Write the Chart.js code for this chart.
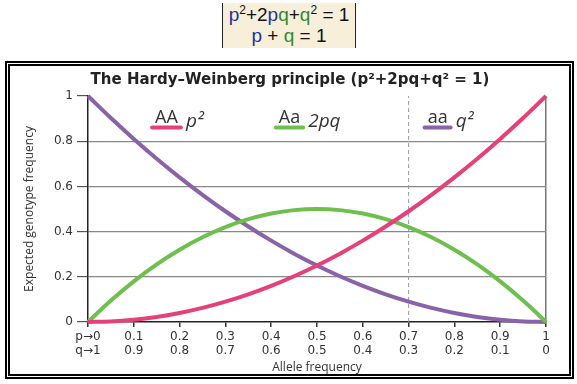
<!DOCTYPE html>
<html>
<head>
<meta charset="utf-8">
<script src="https://cdn.jsdelivr.net/npm/chart.js@4.4.1/dist/chart.umd.min.js"></script>
<style>
  html, body { margin: 0; padding: 0; background: #fff; width: 577px; height: 384px; overflow: hidden; }
  #formula { position: absolute; left: 222px; top: 3px; width: 134px; height: 45px;
    background: #f7efd9; border-left: 1px solid #222; border-right: 1px solid #222;
    font-family: "Liberation Sans", Arial, sans-serif; font-size: 19px; line-height: 21px;
    text-align: center; color: #111; box-sizing: border-box; padding-top: 1px; }
  #formula .p { color: #2230a8; }
  #formula .q { color: #2f8a2f; }
  #formula sup { font-size: 12px; vertical-align: 7px; line-height: 0; }
  #frame { position: absolute; left: 5px; top: 61px; width: 569px; height: 318px;
    border: 5px double #000; box-sizing: border-box; }
  #wrap { position: absolute; left: 0; top: 0; width: 577px; height: 384px; }
</style>
</head>
<body>
<div id="formula"><span class="p">p</span><sup>2</sup>+2<span class="p">p</span><span class="q">q</span>+<span class="q">q</span><sup>2</sup> = 1<br><span class="p">p</span> + <span class="q">q</span> = 1</div>
<div id="frame"></div>
<div id="wrap"><canvas id="c" width="577" height="384"></canvas></div>
<script>
// ---- data ----
const pValues  = [0,0.05,0.1,0.15,0.2,0.25,0.3,0.35,0.4,0.45,0.5,0.55,0.6,0.65,0.7,0.75,0.8,0.85,0.9,0.95,1];
const pSquared = [0,0.0025,0.01,0.0225,0.04,0.0625,0.09,0.1225,0.16,0.2025,0.25,0.3025,0.36,0.4225,0.49,0.5625,0.64,0.7225,0.81,0.9025,1];
const twoPQ    = [0,0.095,0.18,0.255,0.32,0.375,0.42,0.455,0.48,0.495,0.5,0.495,0.48,0.455,0.42,0.375,0.32,0.255,0.18,0.095,0];
const qSquared = [1,0.9025,0.81,0.7225,0.64,0.5625,0.49,0.4225,0.36,0.3025,0.25,0.2025,0.16,0.1225,0.09,0.0625,0.04,0.0225,0.01,0.0025,0];
const pTickLabels = ['p\u21920','0.1','0.2','0.3','0.4','0.5','0.6','0.7','0.8','0.9','1'];
const qTickLabels = ['q\u21921','0.9','0.8','0.7','0.6','0.5','0.4','0.3','0.2','0.1','0'];
const yTickLabels = ['0','0.2','0.4','0.6','0.8','1'];
const markerP = 0.7;
const genotypeLabels = ['AA','Aa','aa'];
const genotypeSymbols = ['p\u00B2','2pq','q\u00B2'];
const legendAnchors = [0.14, 0.41, 0.735];
const titleText = 'The Hardy\u2013Weinberg principle (p\u00B2+2pq+q\u00B2 = 1)';

const colors = ['#e5407a', '#6fbf4e', '#8a62a8'];

function pts(ys) { return pValues.map((x, i) => ({ x: x, y: ys[i] })); }

const overlay = {
  id: 'overlay',
  afterDraw(chart) {
    const ctx = chart.ctx;
    const xs = chart.scales.x, ys = chart.scales.y;
    ctx.save();
    // title
    ctx.fillStyle = '#222';
    ctx.font = 'bold 15px "DejaVu Sans", sans-serif';
    ctx.textAlign = 'center';
    ctx.textBaseline = 'middle';
    ctx.fillText(titleText, 290, 80);
    // legend
    const ly = ys.getPixelForValue(0.9);
    for (let i = 0; i < genotypeLabels.length; i++) {
      const x0 = xs.getPixelForValue(legendAnchors[i]);
      ctx.font = '18px "Open Sans", sans-serif';
      ctx.textAlign = 'left';
      ctx.textBaseline = 'alphabetic';
      ctx.fillStyle = '#333';
      const w = ctx.measureText(genotypeLabels[i]).width;
      ctx.fillText(genotypeLabels[i], x0 + 3, ly + 4);
      ctx.strokeStyle = colors[i];
      ctx.lineWidth = 4;
      ctx.lineCap = 'round';
      ctx.beginPath();
      ctx.moveTo(x0, ly + 9);
      ctx.lineTo(x0 + w + 6, ly + 9);
      ctx.stroke();
      ctx.font = 'italic 19px "Open Sans", sans-serif';
      ctx.fillText(genotypeSymbols[i], x0 + w + 11, ly + 8);
    }
    ctx.restore();
  }
};

new Chart(document.getElementById('c'), {
  type: 'line',
  data: {
    datasets: [
      { label: 'AA', data: pts(pSquared), borderColor: colors[0] },
      { label: 'Aa', data: pts(twoPQ), borderColor: colors[1] },
      { label: 'aa', data: pts(qSquared), borderColor: colors[2] },
      { label: 'marker', data: [{ x: markerP, y: 0 }, { x: markerP, y: 1 }],
        borderColor: '#999', borderWidth: 1, borderDash: [4, 3], tension: 0 }
    ]
  },
  options: {
    responsive: false,
    animation: false,
    devicePixelRatio: 1,
    layout: { padding: { left: 22, right: 31, top: 96, bottom: 9 } },
    elements: {
      point: { radius: 0 },
      line: { borderWidth: 4, tension: 0.4, fill: false }
    },
    datasets: { line: { clip: 4 } },
    plugins: { legend: { display: false }, title: { display: false }, tooltip: { enabled: false } },
    scales: {
      x: {
        type: 'linear', min: 0, max: 1,
        afterFit(s) { s.height = 53; },
        border: { display: true, color: '#222', width: 1.5 },
        grid: {
          drawOnChartArea: true, drawTicks: true, tickLength: 5,
          color: (c) => (c.tick && Math.abs(c.tick.value - 1) < 1e-6) ? '#777' : 'transparent',
          tickColor: '#333', lineWidth: 1.5
        },
        ticks: {
          stepSize: 0.1, color: '#333', padding: 3,
          font: { family: '"DejaVu Sans", sans-serif', size: 12, lineHeight: 1.15 },
          autoSkip: false, maxRotation: 0,
          callback: (v, i) => [pTickLabels[i], qTickLabels[i]]
        },
        title: {
          display: true, text: 'Allele frequency', color: '#333',
          font: { family: '"Open Sans", sans-serif', size: 12 }, padding: { top: 1, bottom: 0 }
        }
      },
      y: {
        min: 0, max: 1,
        afterFit(s) { s.width = 66; },
        border: { display: true, color: '#222', width: 1.5 },
        grid: {
          color: (c) => (c.tick && (c.tick.value === 1 || c.tick.value === 0)) ? 'transparent' : '#888',
          tickColor: '#555', tickLength: 11, lineWidth: 1.2
        },
        ticks: {
          stepSize: 0.2, color: '#333', padding: 4,
          font: { family: '"DejaVu Sans", sans-serif', size: 12 },
          callback: (v, i) => yTickLabels[i]
        },
        title: {
          display: true, text: 'Expected genotype frequency', color: '#333',
          font: { family: '"Open Sans", sans-serif', size: 12 }, padding: { top: 0, bottom: 4 }
        }
      }
    }
  },
  plugins: [overlay]
});
</script>
</body>
</html>
